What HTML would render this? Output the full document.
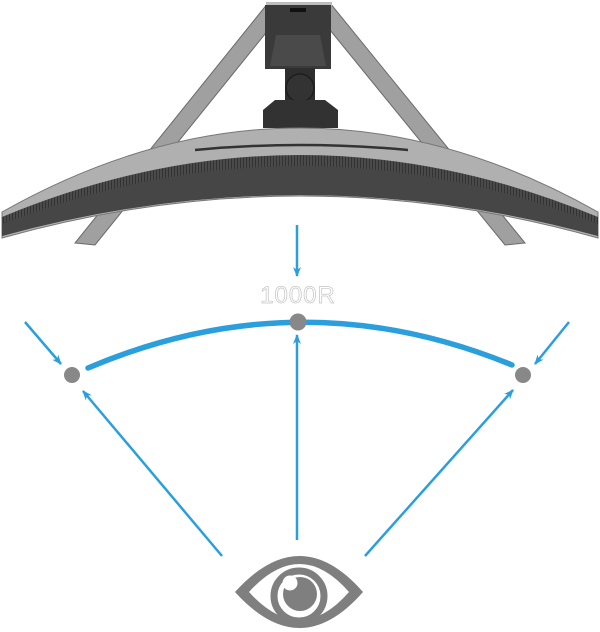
<!DOCTYPE html>
<html><head><meta charset="utf-8"><style>
html,body{margin:0;padding:0;background:#fff;}
svg{display:block;}
</style></head><body>
<svg width="600" height="632" viewBox="0 0 600 632" xmlns="http://www.w3.org/2000/svg">
<defs>
<marker id="ah" markerWidth="10" markerHeight="8" refX="9" refY="4" orient="auto" markerUnits="userSpaceOnUse">
<path d="M0,0 L10,4 L0,8 L3,4 Z" fill="#2a9fdc"/>
</marker>
<pattern id="grill" width="3" height="10" patternUnits="userSpaceOnUse">
<rect width="3" height="10" fill="#4a4a4a"/><rect width="1" height="10" fill="#333"/>
</pattern>
</defs>
<!-- legs -->
<polygon points="268,3 290,3 95,245 75,243" fill="#a0a0a0" stroke="#6a6a6a" stroke-width="1"/>
<polygon points="308,3 330,3 525,243 505,245" fill="#a0a0a0" stroke="#6a6a6a" stroke-width="1"/>
<rect x="266" y="2" width="66" height="4" fill="#bdbdbd"/>
<!-- neck -->
<rect x="265" y="5" width="66" height="64" fill="#3a3a3a"/>
<polygon points="276,35 320,35 326,66 270,66" fill="#4a4a4a"/>
<rect x="290" y="8" width="16" height="4" fill="#111"/>
<rect x="285" y="68" width="30" height="34" fill="#2e2e2e"/>
<circle cx="300" cy="88" r="14" fill="#333" stroke="#1e1e1e" stroke-width="1.5"/>
<polygon points="275,100 325,100 338,110 338,128 263,128 263,110" fill="#323232"/>
<!-- monitor body -->
<path d="M2,212 Q300,44 598,212 L598,238 Q300,154 2,238 Z" fill="#b0b0b0" stroke="#777" stroke-width="1"/>
<path d="M2,217 Q300,93 598,217 L598,236 Q300,154 2,236 Z" fill="url(#grill)"/>
<path d="M2,224 Q300,108 598,224 L598,236 Q300,154 2,236 Z" fill="#464646"/>
<path d="M195,150 Q300,140 408,150" stroke="#333" stroke-width="2.5" fill="none"/>
<!-- arrows -->
<g stroke="#2a9fdc" stroke-width="2.5" fill="none">
<line x1="297" y1="225" x2="297" y2="276" marker-end="url(#ah)"/>
<line x1="25" y1="322" x2="61" y2="364" marker-end="url(#ah)"/>
<line x1="569" y1="322" x2="535" y2="364" marker-end="url(#ah)"/>
<line x1="222" y1="556" x2="83" y2="391" marker-end="url(#ah)"/>
<line x1="297" y1="540" x2="297" y2="335" marker-end="url(#ah)"/>
<line x1="365" y1="556" x2="513" y2="390" marker-end="url(#ah)"/>
</g>
<path d="M88,368 Q300,278 512,365" stroke="#2a9fdc" stroke-width="5.5" stroke-linecap="round" fill="none"/>
<circle cx="72" cy="375" r="8" fill="#888"/>
<circle cx="298" cy="322" r="8.5" fill="#888"/>
<circle cx="523" cy="375" r="8" fill="#888"/>
<text x="298" y="303" text-anchor="middle" font-family="Liberation Sans, sans-serif" font-size="24" fill="#fff" stroke="#c4c4c4" stroke-width="0.7" letter-spacing="1">1000R</text>
<!-- eye -->
<path fill-rule="evenodd" fill="#7f7f7f" d="M235,592 Q300,520 363,592 Q300,664 235,592 Z M249,592 Q300,536 349,592 Q300,648 249,592 Z"/>
<circle cx="299" cy="596" r="25" fill="none" stroke="#7f7f7f" stroke-width="7"/>
<circle cx="300" cy="594" r="17" fill="#7f7f7f"/>
<circle cx="290" cy="583" r="7.5" fill="#fff"/>
</svg>
</body></html>
